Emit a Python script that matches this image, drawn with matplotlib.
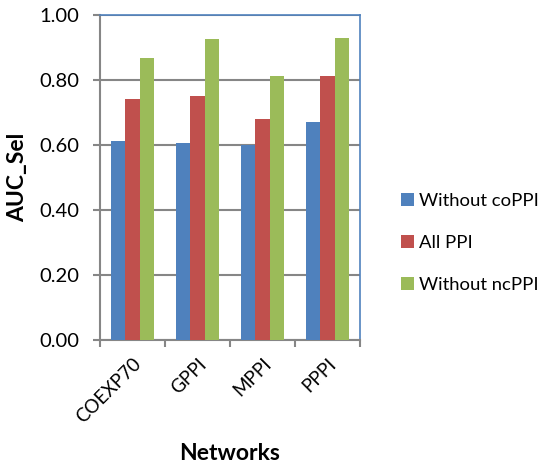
import matplotlib.pyplot as plt
import numpy as np

categories = ["COEXP70", "GPPI", "MPPI", "PPPI"]
series_names = ["Without coPPI", "All PPI", "Without ncPPI"]
without_coppi = [0.610, 0.605, 0.599, 0.669]
all_ppi = [0.740, 0.751, 0.678, 0.810]
without_ncppi = [0.865, 0.926, 0.811, 0.929]
yticks = [0.0, 0.2, 0.4, 0.6, 0.8, 1.0]

colors = ["#4F81BD", "#C0504D", "#9BBB59"]
plt.rcParams['font.family'] = ['Lato', 'DejaVu Sans']

fig = plt.figure(figsize=(5.44, 4.67), dpi=100)
ax = fig.add_axes([100/544, 1-340/467, 260/544, 325.5/467])

x = np.arange(len(categories))
w = 0.222
for i, (vals, name) in enumerate(zip([without_coppi, all_ppi, without_ncppi], series_names)):
    ax.bar(x + (i - 1) * w, vals, w, color=colors[i], label=name, zorder=3)

ax.set_xlim(-0.5, len(categories) - 0.5)
ax.set_ylim(0, 1.0)
ax.set_yticks(yticks)
ax.set_yticklabels([f"{v:.2f}" for v in yticks], fontsize=14.5)
ax.yaxis.grid(True, color="#868686", linewidth=1.5, zorder=0)

ax.set_xticks(x)
ax.set_xticklabels(categories, rotation=45, ha="right", va="top", fontsize=13.5,
                   rotation_mode="anchor")
ax.tick_params(axis="x", length=0, pad=11)
# category boundary ticks
ax.set_xticks(np.arange(-0.5, len(categories)), minor=True)
ax.tick_params(axis="x", which="minor", length=5, width=1.5, color="#868686", direction="out")
ax.tick_params(axis="y", length=5, width=1.5, color="#868686", direction="out", pad=10)

for s in ["left", "bottom"]:
    ax.spines[s].set_color("#868686")
    ax.spines[s].set_linewidth(1.5)
for s in ["top", "right"]:
    ax.spines[s].set_color("#4F81BD")
    ax.spines[s].set_linewidth(1.2)

ax.set_ylabel("AUC_Sel", fontsize=16.5, fontweight="bold", labelpad=8)
ax.set_xlabel("Networks", fontsize=16.5, fontweight="bold", labelpad=12)

leg = fig.legend(loc="center left", bbox_to_anchor=(401/544, 1-243/467), frameon=False,
                 fontsize=13.3, handlelength=0.7, handleheight=0.7, handletextpad=0.3,
                 labelspacing=1.42, borderpad=0, borderaxespad=0)

fig.savefig("out.png", dpi=100)
